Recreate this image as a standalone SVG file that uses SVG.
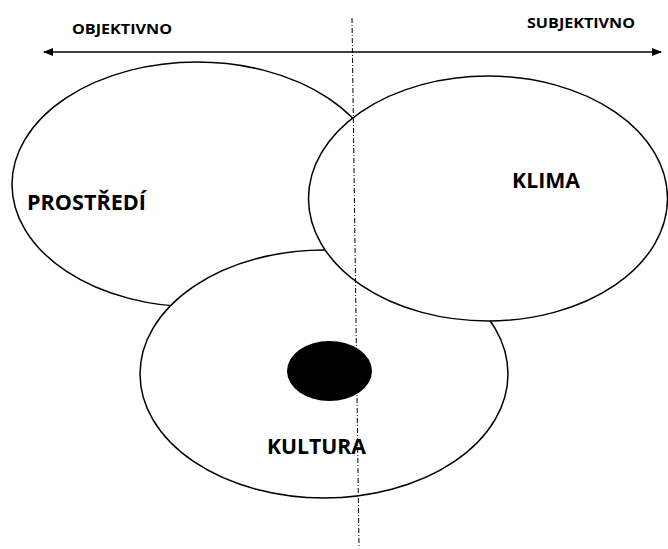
<svg xmlns="http://www.w3.org/2000/svg" width="668" height="549" viewBox="0 0 668 549">
<style>
.ell{fill:#fff;stroke:#000;stroke-width:1.5}
.lbl{font-family:"Open Sans","Liberation Sans",sans-serif;font-weight:bold;fill:#000}
.axis{stroke:#000;stroke-width:1.5;fill:none}
.divider{stroke:#000;stroke-width:1;stroke-dasharray:5 2 1 2;fill:none}
</style>
<defs>
<marker id="ah" viewBox="0 0 10 8" refX="9" refY="4" markerWidth="10" markerHeight="8" markerUnits="userSpaceOnUse" orient="auto-start-reverse">
<path d="M0,0 L10,4 L0,8 Z" fill="#000"/>
</marker>
</defs>
<rect width="668" height="549" fill="#fff"/>
<g id="prostredi">
<ellipse class="ell" cx="197" cy="184.5" rx="185" ry="122.5"/>
</g>
<g id="kultura">
<ellipse class="ell" cx="324" cy="374" rx="184" ry="124"/>
<ellipse cx="329.5" cy="371" rx="42.5" ry="30" fill="#000"/>
</g>
<g id="klima">
<ellipse class="ell" cx="488" cy="198.5" rx="179.5" ry="122.5"/>
</g>
<g id="connectors">
<line class="axis" x1="44" y1="52" x2="661" y2="52" marker-start="url(#ah)" marker-end="url(#ah)"/>
<line class="divider" x1="352" y1="18" x2="359" y2="546"/>
</g>
<g id="labels">
<text class="lbl" x="72" y="34" font-size="14" textLength="100" lengthAdjust="spacingAndGlyphs">OBJEKTIVNO</text>
<text class="lbl" x="527" y="28" font-size="14" textLength="108" lengthAdjust="spacingAndGlyphs">SUBJEKTIVNO</text>
<text class="lbl" x="27" y="210" font-size="21" textLength="119" lengthAdjust="spacingAndGlyphs">PROSTŘEDÍ</text>
<text class="lbl" x="512" y="188" font-size="22" textLength="68" lengthAdjust="spacingAndGlyphs">KLIMA</text>
<text class="lbl" x="267" y="454" font-size="22" textLength="99" lengthAdjust="spacingAndGlyphs">KULTURA</text>
</g>
</svg>
